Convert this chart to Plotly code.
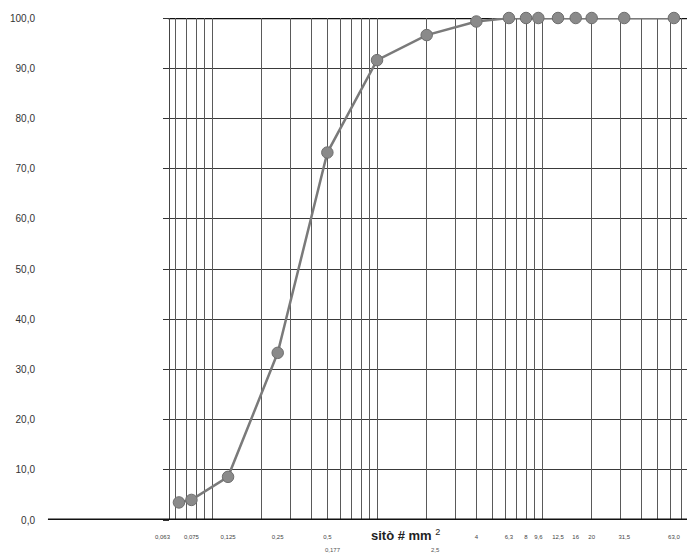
import plotly.graph_objects as go
import math

# Sieve sizes (mm) and cumulative passing (%)
sieve_mm = [0.063, 0.075, 0.125, 0.25, 0.5, 1, 2, 4, 6.3, 8, 9.5, 12.5, 16, 20, 31.5, 63]
passing = [3.5, 4.0, 8.6, 33.3, 73.2, 91.6, 96.6, 99.3, 100, 100, 100, 100, 100, 100, 100, 100]

# Labelled ticks on the x axis (first label is drawn shifted, as in the source)
first_tick_val = 0.063
first_tick_text = "0,063"
tick_vals = [0.075, 0.125, 0.25, 0.5, 4, 6.3, 8, 9.5, 12.5, 16, 20, 31.5, 63]
tick_text = ["0,075", "0,125", "0,25", "0,5", "4", "6,3", "8", "9,6", "12,5", "16", "20", "31,5", "63,0"]

# stray secondary-row labels
extra_vals = [0.54, 2.25]
extra_text = ["0,177", "2,5"]

y_ticks = [0, 10, 20, 30, 40, 50, 60, 70, 80, 90, 100]

x_range = [math.log10(0.0556), -1.2545 + 533 / 165]

fig = go.Figure()
fig.add_trace(go.Scatter(
    x=sieve_mm, y=passing, mode="lines+markers",
    line=dict(color="#7a7a7a", width=2.5),
    marker=dict(size=11.5, color="#8a8a8a", line=dict(color="#6e6e6e", width=1)),
    cliponaxis=False, showlegend=False, hoverinfo="skip",
))
# invisible trace on overlay axis that carries the log grid
fig.add_trace(go.Scatter(x=[1], y=[50], xaxis="x2", mode="markers",
                         marker=dict(opacity=0, size=1), showlegend=False, hoverinfo="skip"))

annotations = [
    dict(text="<b>sitò # mm</b> <sup>2</sup>", xref="paper", yref="paper",
         x=0.441, y=-0.01, xanchor="center", yanchor="top", showarrow=False,
         font=dict(size=13, color="#222")),
    dict(text=first_tick_text, xref="x", yref="paper", x=math.log10(first_tick_val),
         y=-0.024, xshift=-16, xanchor="center", yanchor="top", showarrow=False,
         font=dict(size=6, color="#444")),
]
for v, t in zip(extra_vals, extra_text):
    annotations.append(dict(text=t, xref="x", yref="paper", x=math.log10(v), y=-0.05,
                            xanchor="center", yanchor="top", showarrow=False,
                            font=dict(size=6, color="#555")))

fig.update_layout(
    width=695, height=557,
    margin=dict(l=162, r=0, t=10, b=45),
    paper_bgcolor="white", plot_bgcolor="white",
    separators=",.",
    font=dict(family="Liberation Sans, Arial, sans-serif", color="#333"),
    xaxis=dict(
        type="log", range=x_range,
        tickmode="array", tickvals=tick_vals, ticktext=tick_text,
        tickangle=0,
        showgrid=False, zeroline=False, ticks="",
        tickfont=dict(size=6, color="#444"),
        ticklabelstandoff=12,
    ),
    xaxis2=dict(
        type="log", range=x_range, overlaying="x", dtick="D1",
        showgrid=True, gridcolor="#5a5a5a", gridwidth=1,
        showticklabels=False, ticks="", zeroline=False,
    ),
    yaxis=dict(
        range=[0, 100], tickmode="array", tickvals=y_ticks,
        tickformat=".1f", showgrid=True, gridcolor="#3a3a3a", gridwidth=1,
        zeroline=False, showline=True, linecolor="#444", linewidth=1,
        ticks="outside", ticklen=6, tickcolor="#333",
        tickfont=dict(size=10, color="#333"),
        ticklabelstandoff=126,
    ),
    shapes=[
        dict(type="line", xref="paper", yref="y", x0=-0.229, x1=1, y0=0, y1=0,
             line=dict(color="#111", width=3), layer="above"),
        dict(type="line", xref="paper", yref="y", x0=-0.004, x1=1, y0=100, y1=100,
             line=dict(color="#111", width=2.5), layer="below"),
    ],
    annotations=annotations,
)

fig.write_html("out.html")
